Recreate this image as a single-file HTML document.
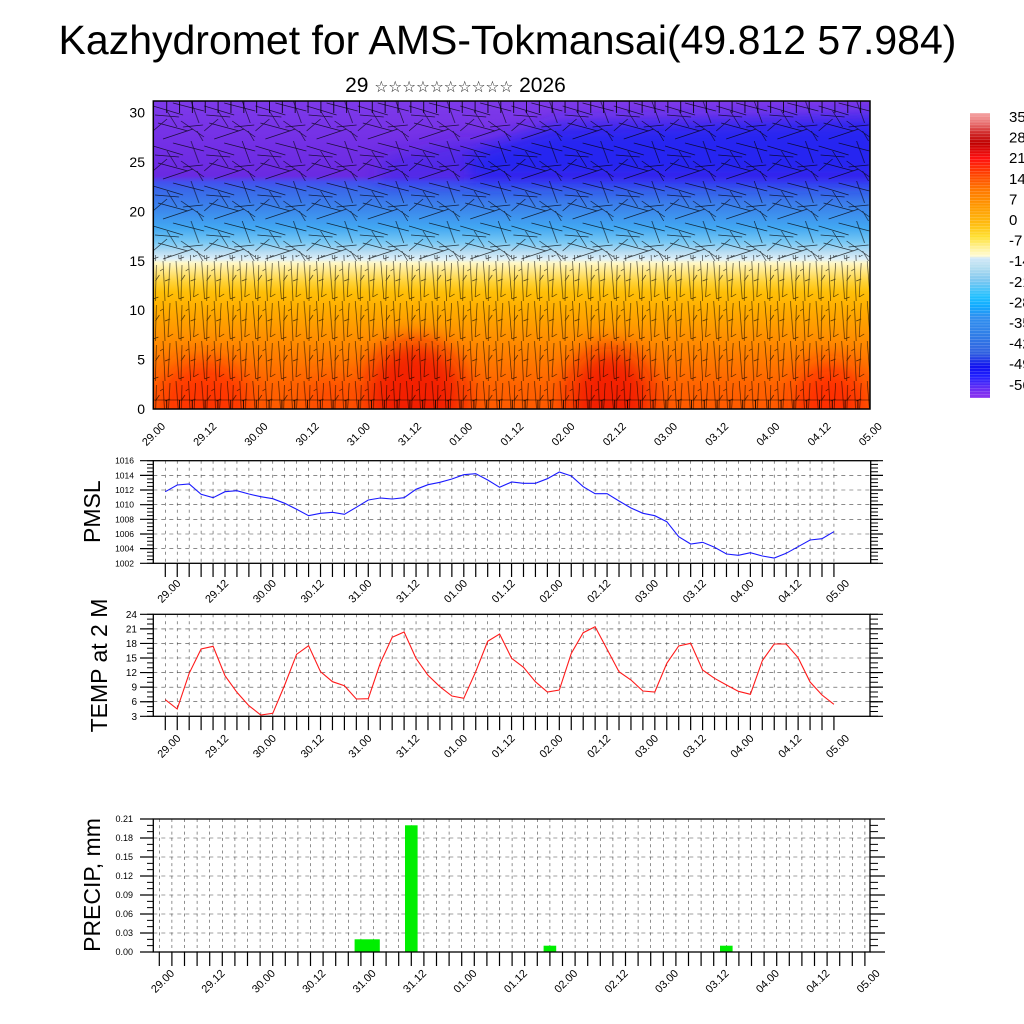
<!DOCTYPE html>
<html><head><meta charset="utf-8"><style>
html,body{margin:0;padding:0;background:#fff;width:1024px;height:1024px;overflow:hidden}
svg{display:block}
</style></head><body>
<svg width="1024" height="1024" viewBox="0 0 1024 1024" xmlns="http://www.w3.org/2000/svg" font-family="'Liberation Sans', Arial, sans-serif">
<defs>
<linearGradient id="fieldG" gradientUnits="userSpaceOnUse" x1="0" y1="101" x2="0" y2="409">
<stop offset="0" stop-color="#7e3aea"/>
<stop offset="0.127" stop-color="#7430e6"/>
<stop offset="0.2435" stop-color="#6a2ae2"/>
<stop offset="0.263" stop-color="#4450ee"/>
<stop offset="0.289" stop-color="#3a68ea"/>
<stop offset="0.354" stop-color="#3c88ec"/>
<stop offset="0.412" stop-color="#42a8f2"/>
<stop offset="0.458" stop-color="#78c8f4"/>
<stop offset="0.490" stop-color="#b6dcf2"/>
<stop offset="0.513" stop-color="#dff0f8"/>
<stop offset="0.526" stop-color="#fff8c8"/>
<stop offset="0.555" stop-color="#ffe680"/>
<stop offset="0.588" stop-color="#ffd236"/>
<stop offset="0.620" stop-color="#ffc008"/>
<stop offset="0.679" stop-color="#ffac00"/>
<stop offset="0.760" stop-color="#ff9200"/>
<stop offset="0.841" stop-color="#ff7a00"/>
<stop offset="0.922" stop-color="#ff6400"/>
<stop offset="1" stop-color="#ff5a00"/>
</linearGradient>
<linearGradient id="cbG" gradientUnits="userSpaceOnUse" x1="0" y1="113" x2="0" y2="398">
<stop offset="0" stop-color="#f4a4a4"/>
<stop offset="0.036" stop-color="#e87070"/>
<stop offset="0.071" stop-color="#d02828"/>
<stop offset="0.106" stop-color="#c00000"/>
<stop offset="0.159" stop-color="#ff1010"/>
<stop offset="0.212" stop-color="#ff4000"/>
<stop offset="0.270" stop-color="#ff7800"/>
<stop offset="0.329" stop-color="#ff9a00"/>
<stop offset="0.387" stop-color="#ffbb10"/>
<stop offset="0.434" stop-color="#ffe030"/>
<stop offset="0.469" stop-color="#fff090"/>
<stop offset="0.502" stop-color="#fffbd4"/>
<stop offset="0.509" stop-color="#d0e8f8"/>
<stop offset="0.539" stop-color="#b8dff0"/>
<stop offset="0.586" stop-color="#80c8f0"/>
<stop offset="0.645" stop-color="#20c0ff"/>
<stop offset="0.680" stop-color="#10a8ff"/>
<stop offset="0.715" stop-color="#3090f0"/>
<stop offset="0.773" stop-color="#3080e8"/>
<stop offset="0.843" stop-color="#3060e0"/>
<stop offset="0.890" stop-color="#1010f0"/>
<stop offset="0.925" stop-color="#2020ff"/>
<stop offset="0.984" stop-color="#8030f0"/>
<stop offset="1" stop-color="#8a35f0"/>
</linearGradient>
<filter id="blur8" x="-30%" y="-30%" width="160%" height="160%"><feGaussianBlur stdDeviation="9"/></filter>
<filter id="blur12" x="-50%" y="-50%" width="200%" height="200%"><feGaussianBlur stdDeviation="12"/></filter>
<clipPath id="clipTop"><rect x="153.3" y="101" width="716.7" height="308"/></clipPath>
<pattern id="pu" patternUnits="userSpaceOnUse" x="153" y="101" width="51.2" height="40">
<path d="M0 5L30 14M20 2L51 10M5 22L35 30M28 20L51 36M10 38L40 28M0 30L14 18M38 0L46 22M14 10L24 26M2 14L26 16M30 26L50 24M44 30L50 40" stroke="#000" stroke-width="0.7" fill="none"/>
</pattern>
<pattern id="pl" patternUnits="userSpaceOnUse" x="160" y="101" width="25.6" height="40">
<path d="M3 0L5 40M10 2L8 36M16 0L19 38M22 4L21 40M5 20L10 18M8 36L13 33M19 38L24 36M21 20L25 14M0 10L3 8" stroke="#000" stroke-width="0.7" fill="none"/>
</pattern>
<pattern id="cbs" patternUnits="userSpaceOnUse" x="0" y="113" width="20" height="2.9">
<rect x="0" y="0" width="20" height="0.5" fill="#fff"/>
</pattern>
</defs>

<rect width="1024" height="1024" fill="#fff"/>

<!-- Title -->
<text x="507.5" y="54" font-size="41" text-anchor="middle" fill="#000">Kazhydromet for AMS-Tokmansai(49.812 57.984)</text>
<text x="455.5" y="92" font-size="21" text-anchor="middle" fill="#000">29 <tspan font-family="'DejaVu Sans', sans-serif" font-size="15.5" fill="#222">☆☆☆☆☆☆☆☆☆☆</tspan> 2026</text>

<!-- TOP PANEL -->
<g clip-path="url(#clipTop)">
<rect x="153.3" y="101" width="716.7" height="308" fill="url(#fieldG)"/>
<g filter="url(#blur8)">
<path d="M380 160L470 140L470 183L380 183Z" fill="#2a22f0" opacity="0.45"/>
<path d="M470 150L560 124L885 116L885 183L470 183Z" fill="#1c22f2" opacity="0.9"/>
</g>
<g filter="url(#blur12)">
<ellipse cx="205" cy="402" rx="45" ry="42" fill="#ff2a00" opacity="0.75"/>
<ellipse cx="415" cy="395" rx="50" ry="55" fill="#f01000" opacity="0.8"/>
<ellipse cx="610" cy="398" rx="42" ry="50" fill="#f01000" opacity="0.8"/>
<ellipse cx="830" cy="402" rx="35" ry="40" fill="#ff2000" opacity="0.7"/>
<ellipse cx="330" cy="402" rx="25" ry="25" fill="#ff3800" opacity="0.5"/>
</g>
<rect x="153.3" y="101" width="716.7" height="160" fill="url(#pu)" opacity="0.75"/>
<rect x="153.3" y="255" width="716.7" height="154" fill="url(#pl)" opacity="0.7"/>
<line x1="166.2" y1="107" x2="871" y2="107" stroke="#000" stroke-width="12" stroke-dasharray="1 11.85" opacity="0.8"/>
<line x1="166.2" y1="404.5" x2="871" y2="404.5" stroke="#000" stroke-width="9" stroke-dasharray="1 11.8" opacity="0.8"/>
<line x1="153" y1="400" x2="871" y2="400" stroke="#000" stroke-width="0.7" opacity="0.6"/>
</g>
<rect x="153.3" y="101" width="716.7" height="308" fill="none" stroke="#000" stroke-width="1.5"/>

<g font-size="14" text-anchor="end" fill="#000">
<text x="145" y="414">0</text>
<text x="145" y="364.6">5</text>
<text x="145" y="315.2">10</text>
<text x="145" y="265.8">15</text>
<text x="145" y="216.4">20</text>
<text x="145" y="167">25</text>
<text x="145" y="117.6">30</text>
</g>
<g font-size="11" text-anchor="end" fill="#000">
<text x="166" y="427" transform="rotate(-45 166 427)">29.00</text>
<text x="217.2" y="427" transform="rotate(-45 217.2 427)">29.12</text>
<text x="268.4" y="427" transform="rotate(-45 268.4 427)">30.00</text>
<text x="319.6" y="427" transform="rotate(-45 319.6 427)">30.12</text>
<text x="370.8" y="427" transform="rotate(-45 370.8 427)">31.00</text>
<text x="422" y="427" transform="rotate(-45 422 427)">31.12</text>
<text x="473.1" y="427" transform="rotate(-45 473.1 427)">01.00</text>
<text x="524.3" y="427" transform="rotate(-45 524.3 427)">01.12</text>
<text x="575.5" y="427" transform="rotate(-45 575.5 427)">02.00</text>
<text x="626.7" y="427" transform="rotate(-45 626.7 427)">02.12</text>
<text x="677.9" y="427" transform="rotate(-45 677.9 427)">03.00</text>
<text x="729.1" y="427" transform="rotate(-45 729.1 427)">03.12</text>
<text x="780.3" y="427" transform="rotate(-45 780.3 427)">04.00</text>
<text x="831.5" y="427" transform="rotate(-45 831.5 427)">04.12</text>
<text x="882.7" y="427" transform="rotate(-45 882.7 427)">05.00</text>
</g>

<!-- Colorbar -->
<rect x="970" y="113" width="20" height="285" fill="url(#cbG)"/>
<rect x="970" y="113" width="20" height="285" fill="url(#cbs)" opacity="0.3"/>
<g font-size="15" fill="#000">
<text x="1009" y="122">35</text>
<text x="1009" y="142.6">28</text>
<text x="1009" y="163.2">21</text>
<text x="1009" y="183.8">14</text>
<text x="1009" y="204.4">7</text>
<text x="1009" y="225">0</text>
<text x="1009" y="245.6">-7</text>
<text x="1009" y="266.2">-14</text>
<text x="1009" y="286.8">-21</text>
<text x="1009" y="307.4">-28</text>
<text x="1009" y="328">-35</text>
<text x="1009" y="348.6">-42</text>
<text x="1009" y="369.2">-49</text>
<text x="1009" y="389.8">-56</text>
</g>

<!-- PMSL PANEL -->
<g stroke="#444" stroke-width="0.6" fill="none">
<path stroke-dasharray="3 4" d="M165.3 460.7v102.6m11.94-102.6v102.6m11.94-102.6v102.6m11.94-102.6v102.6m11.94-102.6v102.6m11.94-102.6v102.6m11.94-102.6v102.6m11.94-102.6v102.6m11.94-102.6v102.6m11.94-102.6v102.6m11.94-102.6v102.6m11.94-102.6v102.6m11.94-102.6v102.6m11.94-102.6v102.6m11.94-102.6v102.6m11.94-102.6v102.6m11.94-102.6v102.6m11.94-102.6v102.6m11.94-102.6v102.6m11.94-102.6v102.6m11.94-102.6v102.6m11.94-102.6v102.6m11.94-102.6v102.6m11.94-102.6v102.6m11.94-102.6v102.6m11.94-102.6v102.6m11.94-102.6v102.6m11.94-102.6v102.6m11.94-102.6v102.6m11.94-102.6v102.6m11.94-102.6v102.6m11.94-102.6v102.6m11.94-102.6v102.6m11.94-102.6v102.6m11.94-102.6v102.6m11.94-102.6v102.6m11.94-102.6v102.6m11.94-102.6v102.6m11.94-102.6v102.6m11.94-102.6v102.6m11.94-102.6v102.6m11.94-102.6v102.6m11.94-102.6v102.6m11.94-102.6v102.6m11.94-102.6v102.6m11.94-102.6v102.6m11.94-102.6v102.6m11.94-102.6v102.6m11.94-102.6v102.6m11.94-102.6v102.6m11.94-102.6v102.6m11.94-102.6v102.6m11.94-102.6v102.6m11.94-102.6v102.6m11.94-102.6v102.6m11.94-102.6v102.6m11.94-102.6v102.6"/>
<path stroke-dasharray="4 4" d="M153.3 475.4H870.7M153.3 490H870.7M153.3 504.7H870.7M153.3 519.4H870.7M153.3 534H870.7M153.3 548.7H870.7"/>
</g>
<polyline fill="none" stroke="#1a1aff" stroke-width="1.1" points="165.3,491.7 177.2,485 189.2,484 201.1,494.3 213.1,497.7 225,491.7 236.9,490.7 248.9,494 260.8,496.7 272.8,498.7 284.7,503.3 296.6,509.3 308.6,515.7 320.5,513.3 332.5,512.3 344.4,514.3 356.3,507.3 368.3,500 380.2,498 392.2,499 404.1,497.7 416,489.3 428,484.7 439.9,482.3 451.9,479 463.8,474.7 475.7,473.7 487.7,480 499.6,487.3 511.6,482 523.5,483.3 535.4,483.3 547.4,478.7 559.3,472 571.3,476 583.2,486.7 595.1,493.7 607.1,493.7 619,501 631,508 642.9,513.3 654.8,515.7 666.8,521.7 678.7,536.7 690.7,544 702.6,542.3 714.5,547.3 726.5,554 738.4,555.3 750.4,552.7 762.3,556 774.2,558 786.2,553.3 798.1,546.7 810.1,540 822,538.7 833.9,531.7"/>
<rect x="153.3" y="460.7" width="717.4" height="102.6" fill="none" stroke="#000" stroke-width="1.3"/>
<g stroke="#000">
<line x1="164.7" y1="570" x2="835" y2="570" stroke-width="14" stroke-dasharray="1.2 10.74"/>
<line x1="146.65" y1="460.1" x2="146.65" y2="564" stroke-width="13.3" stroke-dasharray="1.2 13.457"/>
<line x1="150.15" y1="460.2" x2="150.15" y2="564" stroke-width="6.3" stroke-dasharray="1 2.664"/>
<line x1="876.85" y1="460.1" x2="876.85" y2="564" stroke-width="12.3" stroke-dasharray="1.2 13.457"/>
<line x1="874.35" y1="460.2" x2="874.35" y2="564" stroke-width="7.3" stroke-dasharray="1 2.664"/>
</g>
<g font-size="8.5" text-anchor="end" fill="#000">
<text x="134" y="463.7">1016</text>
<text x="134" y="478.4">1014</text>
<text x="134" y="493">1012</text>
<text x="134" y="507.7">1010</text>
<text x="134" y="522.4">1008</text>
<text x="134" y="537">1006</text>
<text x="134" y="551.7">1004</text>
<text x="134" y="566.3">1002</text>
</g>
<text x="100" y="511.7" font-size="23" text-anchor="middle" transform="rotate(-90 100 511.7)">PMSL</text>
<g font-size="11" text-anchor="end" fill="#000">
<text x="181.3" y="584" transform="rotate(-45 181.3 584)">29.00</text>
<text x="229.1" y="584" transform="rotate(-45 229.1 584)">29.12</text>
<text x="276.8" y="584" transform="rotate(-45 276.8 584)">30.00</text>
<text x="324.6" y="584" transform="rotate(-45 324.6 584)">30.12</text>
<text x="372.3" y="584" transform="rotate(-45 372.3 584)">31.00</text>
<text x="420.1" y="584" transform="rotate(-45 420.1 584)">31.12</text>
<text x="467.9" y="584" transform="rotate(-45 467.9 584)">01.00</text>
<text x="515.6" y="584" transform="rotate(-45 515.6 584)">01.12</text>
<text x="563.4" y="584" transform="rotate(-45 563.4 584)">02.00</text>
<text x="611.1" y="584" transform="rotate(-45 611.1 584)">02.12</text>
<text x="658.9" y="584" transform="rotate(-45 658.9 584)">03.00</text>
<text x="706.7" y="584" transform="rotate(-45 706.7 584)">03.12</text>
<text x="754.4" y="584" transform="rotate(-45 754.4 584)">04.00</text>
<text x="802.2" y="584" transform="rotate(-45 802.2 584)">04.12</text>
<text x="849.9" y="584" transform="rotate(-45 849.9 584)">05.00</text>
</g>

<!-- TEMP PANEL -->
<g stroke="#444" stroke-width="0.6" fill="none">
<path stroke-dasharray="3 4" d="M165.3 614.3v102m11.94-102v102m11.94-102v102m11.94-102v102m11.94-102v102m11.94-102v102m11.94-102v102m11.94-102v102m11.94-102v102m11.94-102v102m11.94-102v102m11.94-102v102m11.94-102v102m11.94-102v102m11.94-102v102m11.94-102v102m11.94-102v102m11.94-102v102m11.94-102v102m11.94-102v102m11.94-102v102m11.94-102v102m11.94-102v102m11.94-102v102m11.94-102v102m11.94-102v102m11.94-102v102m11.94-102v102m11.94-102v102m11.94-102v102m11.94-102v102m11.94-102v102m11.94-102v102m11.94-102v102m11.94-102v102m11.94-102v102m11.94-102v102m11.94-102v102m11.94-102v102m11.94-102v102m11.94-102v102m11.94-102v102m11.94-102v102m11.94-102v102m11.94-102v102m11.94-102v102m11.94-102v102m11.94-102v102m11.94-102v102m11.94-102v102m11.94-102v102m11.94-102v102m11.94-102v102m11.94-102v102m11.94-102v102m11.94-102v102"/>
<path stroke-dasharray="4 4" d="M153.3 701.7H870M153.3 687.2H870M153.3 672.6H870M153.3 658H870M153.3 643.4H870M153.3 628.9H870"/>
</g>
<polyline fill="none" stroke="#ff1a1a" stroke-width="1.1" points="165.3,699.7 177.2,709 189.2,673.3 201.1,649 213.1,646.3 225,675.7 236.9,692.3 248.9,705.7 260.8,715 272.8,713.3 284.7,685 296.6,654.3 308.6,645.7 320.5,671.7 332.5,681.7 344.4,685.7 356.3,699 368.3,698.7 380.2,663.3 392.2,637.3 404.1,632 416,658.3 428,675.3 439.9,686.7 451.9,696 463.8,698.3 475.7,671.7 487.7,641.3 499.6,634 511.6,658.3 523.5,667.3 535.4,681.7 547.4,692 559.3,690 571.3,653.3 583.2,632.7 595.1,626.7 607.1,649.3 619,671.7 631,680 642.9,691 654.8,692 666.8,663.3 678.7,646 690.7,643.3 702.6,670 714.5,678.3 726.5,685 738.4,691.3 750.4,694.3 762.3,660.7 774.2,644 786.2,644 798.1,657.7 810.1,682 822,695 833.9,704.3"/>
<rect x="153.3" y="614.3" width="716.7" height="102" fill="none" stroke="#000" stroke-width="1.3"/>
<g stroke="#000">
<line x1="164.7" y1="723.2" x2="835" y2="723.2" stroke-width="13.8" stroke-dasharray="1.2 10.74"/>
<line x1="146.65" y1="613.7" x2="146.65" y2="717" stroke-width="13.3" stroke-dasharray="1.2 13.371"/>
<line x1="150.15" y1="613.8" x2="150.15" y2="717" stroke-width="6.3" stroke-dasharray="1 3.857"/>
<line x1="876.5" y1="613.7" x2="876.5" y2="717" stroke-width="13" stroke-dasharray="1.2 13.371"/>
<line x1="874" y1="613.8" x2="874" y2="717" stroke-width="8" stroke-dasharray="1 3.857"/>
</g>
<g font-size="10" text-anchor="end" fill="#000">
<text x="137" y="617.8">24</text>
<text x="137" y="632.4">21</text>
<text x="137" y="646.9">18</text>
<text x="137" y="661.5">15</text>
<text x="137" y="676.1">12</text>
<text x="137" y="690.7">9</text>
<text x="137" y="705.2">6</text>
<text x="137" y="719.8">3</text>
</g>
<text x="107" y="665.5" font-size="23" text-anchor="middle" transform="rotate(-90 107 665.5)">TEMP at 2 M</text>
<g font-size="11" text-anchor="end" fill="#000">
<text x="181.3" y="739" transform="rotate(-45 181.3 739)">29.00</text>
<text x="229.1" y="739" transform="rotate(-45 229.1 739)">29.12</text>
<text x="276.8" y="739" transform="rotate(-45 276.8 739)">30.00</text>
<text x="324.6" y="739" transform="rotate(-45 324.6 739)">30.12</text>
<text x="372.3" y="739" transform="rotate(-45 372.3 739)">31.00</text>
<text x="420.1" y="739" transform="rotate(-45 420.1 739)">31.12</text>
<text x="467.9" y="739" transform="rotate(-45 467.9 739)">01.00</text>
<text x="515.6" y="739" transform="rotate(-45 515.6 739)">01.12</text>
<text x="563.4" y="739" transform="rotate(-45 563.4 739)">02.00</text>
<text x="611.1" y="739" transform="rotate(-45 611.1 739)">02.12</text>
<text x="658.9" y="739" transform="rotate(-45 658.9 739)">03.00</text>
<text x="706.7" y="739" transform="rotate(-45 706.7 739)">03.12</text>
<text x="754.4" y="739" transform="rotate(-45 754.4 739)">04.00</text>
<text x="802.2" y="739" transform="rotate(-45 802.2 739)">04.12</text>
<text x="849.9" y="739" transform="rotate(-45 849.9 739)">05.00</text>
</g>

<!-- PRECIP PANEL -->
<g stroke="#444" stroke-width="0.6" fill="none">
<path stroke-dasharray="3 3.3" d="M159.3 819v133m12.6-133v133m12.6-133v133m12.6-133v133m12.6-133v133m12.6-133v133m12.6-133v133m12.6-133v133m12.6-133v133m12.6-133v133m12.6-133v133m12.6-133v133m12.6-133v133m12.6-133v133m12.6-133v133m12.6-133v133m12.6-133v133m12.6-133v133m12.6-133v133m12.6-133v133m12.6-133v133m12.6-133v133m12.6-133v133m12.6-133v133m12.6-133v133m12.6-133v133m12.6-133v133m12.6-133v133m12.6-133v133m12.6-133v133m12.6-133v133m12.6-133v133m12.6-133v133m12.6-133v133m12.6-133v133m12.6-133v133m12.6-133v133m12.6-133v133m12.6-133v133m12.6-133v133m12.6-133v133m12.6-133v133m12.6-133v133m12.6-133v133m12.6-133v133m12.6-133v133m12.6-133v133m12.6-133v133m12.6-133v133m12.6-133v133m12.6-133v133m12.6-133v133m12.6-133v133m12.6-133v133m12.6-133v133m12.6-133v133m12.6-133v133"/>
<path stroke-dasharray="4 4" d="M153.3 933H870M153.3 914H870M153.3 895H870M153.3 876H870M153.3 857H870M153.3 838H870"/>
</g>
<g fill="#00ee00">
<rect x="354.6" y="939.3" width="25.2" height="12.7"/>
<rect x="405" y="825.3" width="12.6" height="126.7"/>
<rect x="543.6" y="945.7" width="12.6" height="6.3"/>
<rect x="720" y="945.7" width="12.6" height="6.3"/>
</g>
<rect x="153.3" y="819" width="716.7" height="133" fill="none" stroke="#000" stroke-width="1.3"/>
<g stroke="#000">
<line x1="158.7" y1="959" x2="866" y2="959" stroke-width="14" stroke-dasharray="1.2 11.4"/>
<line x1="146.65" y1="818.4" x2="146.65" y2="953" stroke-width="13.3" stroke-dasharray="1.2 17.8"/>
<line x1="150.15" y1="818.5" x2="150.15" y2="953" stroke-width="6.3" stroke-dasharray="1 5.333"/>
<line x1="877.5" y1="818.4" x2="877.5" y2="953" stroke-width="15" stroke-dasharray="1.2 17.8"/>
<line x1="874" y1="818.5" x2="874" y2="953" stroke-width="8" stroke-dasharray="1 5.333"/>
</g>
<g font-size="9" text-anchor="end" fill="#000">
<text x="133" y="822.2">0.21</text>
<text x="133" y="841.2">0.18</text>
<text x="133" y="860.2">0.15</text>
<text x="133" y="879.2">0.12</text>
<text x="133" y="898.2">0.09</text>
<text x="133" y="917.2">0.06</text>
<text x="133" y="936.2">0.03</text>
<text x="133" y="955.2">0.00</text>
</g>
<text x="100" y="885" font-size="23" text-anchor="middle" transform="rotate(-90 100 885)">PRECIP, mm</text>
<g font-size="11" text-anchor="end" fill="#000">
<text x="175" y="974" transform="rotate(-45 175 974)">29.00</text>
<text x="225.4" y="974" transform="rotate(-45 225.4 974)">29.12</text>
<text x="275.8" y="974" transform="rotate(-45 275.8 974)">30.00</text>
<text x="326.2" y="974" transform="rotate(-45 326.2 974)">30.12</text>
<text x="376.6" y="974" transform="rotate(-45 376.6 974)">31.00</text>
<text x="427" y="974" transform="rotate(-45 427 974)">31.12</text>
<text x="477.4" y="974" transform="rotate(-45 477.4 974)">01.00</text>
<text x="527.8" y="974" transform="rotate(-45 527.8 974)">01.12</text>
<text x="578.2" y="974" transform="rotate(-45 578.2 974)">02.00</text>
<text x="628.6" y="974" transform="rotate(-45 628.6 974)">02.12</text>
<text x="679" y="974" transform="rotate(-45 679 974)">03.00</text>
<text x="729.4" y="974" transform="rotate(-45 729.4 974)">03.12</text>
<text x="779.8" y="974" transform="rotate(-45 779.8 974)">04.00</text>
<text x="830.2" y="974" transform="rotate(-45 830.2 974)">04.12</text>
<text x="880.6" y="974" transform="rotate(-45 880.6 974)">05.00</text>
</g>
</svg>
</body></html>
